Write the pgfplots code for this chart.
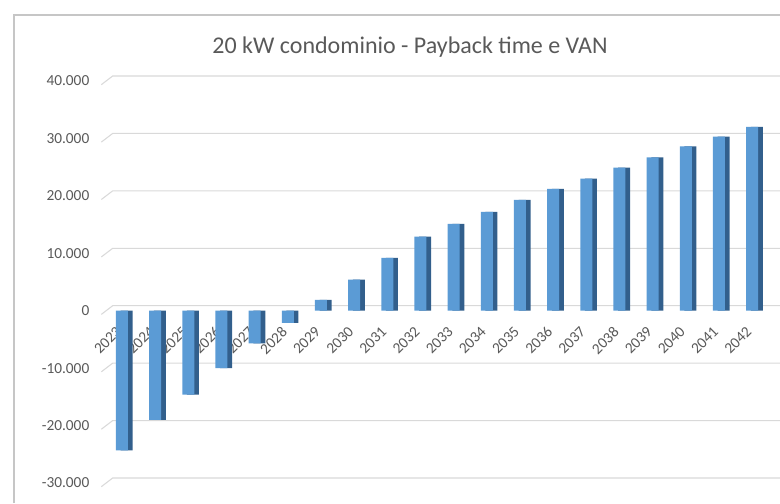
\documentclass[border=0pt]{standalone}
\usepackage{pgfplots}
\pgfplotsset{compat=1.18}
\usepackage{pgfplotstable}
\usepackage{fontspec}
\setmainfont{Carlito}
\definecolor{barblue}{RGB}{91,155,213}
\definecolor{barside}{RGB}{50,95,140}
\definecolor{txtgray}{RGB}{89,89,89}
\definecolor{gridgray}{RGB}{217,217,217}
\pgfplotsset{
  common/.style={
    at={(82.5pt,15pt)}, anchor=south west,
    scale only axis, width=502.5pt, height=301.5pt,
    xmin=-0.36, xmax=19.84, ymin=-30000, ymax=40000,
    clip=false,
  },
}
\pgfplotstableread{
x year val
0 2023 -24300
1 2024 -19000
2 2025 -14600
3 2026 -10000
4 2027 -5700
5 2028 -2100
6 2029 1900
7 2030 5400
8 2031 9200
9 2032 12900
10 2033 15100
11 2034 17200
12 2035 19300
13 2036 21200
14 2037 23000
15 2038 24900
16 2039 26700
17 2040 28600
18 2041 30300
19 2042 32000
}\datatable
\begin{document}
\begin{tikzpicture}
\useasboundingbox (0pt,0pt) rectangle (585pt,377.25pt);
\clip (0pt,0pt) rectangle (585pt,377.25pt);
\draw[gray!45, line width=0.8pt] (10.5pt,0pt) -- (10.5pt,366pt) -- (585pt,366pt);
\node[text=txtgray, font=\fontsize{18}{20}\selectfont] at (307.5pt,342pt) {20 kW condominio - Payback time e VAN};
\begin{axis}[
  common,
  axis x line*=middle, axis y line*=left,
  axis line style={draw=none},
  hide obscured x ticks=false, hide obscured y ticks=false,
  major tick length=0pt,
  scaled y ticks=false,
  ytick={-30000,-20000,-10000,0,10000,20000,30000,40000},
  yticklabels={-30.000,-20.000,-10.000,0,10.000,20.000,30.000,40.000},
  xtick=data,
  xticklabels from table={\datatable}{year},
  tick label style={text=txtgray, font=\fontsize{11.5}{13}\selectfont},
  y tick label style={xshift=-12pt},
  x tick label style={yshift=-11.5pt, xshift=0pt, rotate=45, anchor=east},
]
\pgfplotsinvokeforeach{-30000,-20000,-10000,0,10000,20000,30000,40000}{
  \draw[gridgray, line width=0.8pt] (axis cs:-0.36,#1) ++(-6.5pt,-2.75pt) -- ++(8.5pt,6.5pt) -- ++(510pt,0pt);
}
\addplot[draw=none, forget plot] table[x=x,y=val]{\datatable};
\end{axis}
\begin{axis}[
  common,
  hide axis,
  ybar, bar width=9pt,
]
\addplot[fill=barside, draw=none, bar shift=3.5pt] table[x=x,y=val]{\datatable};
\addplot[fill=barblue, draw=none, bar shift=0pt] table[x=x,y=val]{\datatable};
\end{axis}
\end{tikzpicture}
\end{document}
